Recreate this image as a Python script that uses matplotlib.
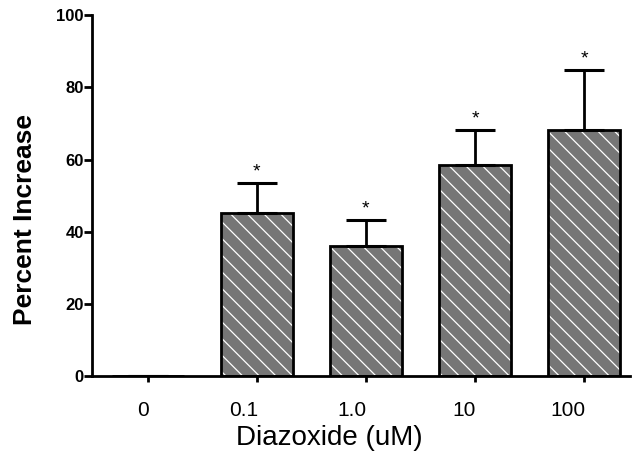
import numpy as np
import matplotlib.pyplot as plt
import matplotlib.transforms as mtransforms

# Data
doses = ['0', '0.1', '1.0', '10', '100']
increase = [0, 45.2, 36.0, 58.4, 68.1]
sem = [0, 8.3, 7.2, 9.7, 16.7]
signif = [False, True, True, True, True]

plt.rcParams['font.family'] = ['Liberation Sans', 'DejaVu Sans']
plt.rcParams['hatch.color'] = 'white'
plt.rcParams['hatch.linewidth'] = 0.9

fig = plt.figure(figsize=(6.35, 4.61), dpi=100)
ax = fig.add_axes([0.145, 0.184, 0.847, 0.783])

x = np.arange(len(doses))
bar_width = 0.66

# hatched fill (white diagonal lines on gray), then black outline on top
ax.bar(x, increase, bar_width, color='#767676', edgecolor='white', hatch='\\\\', linewidth=0, zorder=2)
ax.bar(x, increase, bar_width, fill=False, edgecolor='black', linewidth=2, zorder=3)

# upper error bars only
ax.errorbar(x, increase, yerr=[np.zeros(len(sem)), sem], fmt='none', ecolor='black',
            elinewidth=2, capsize=14.5, capthick=2.2, zorder=4)

# asterisks above the caps
for xi, v, e, s in zip(x, increase, sem, signif):
    if s:
        ax.text(xi, v + e + 0.8, '*', ha='center', va='bottom', fontsize=14)

ax.set_xlim(-0.51, 4.42)
ax.set_ylim(0, 100)
ax.set_yticks([0, 20, 40, 60, 80, 100])
ax.set_xticks(x)
ax.set_xticklabels(doses, fontsize=15, ha='right')

ax.spines['top'].set_visible(False)
ax.spines['right'].set_visible(False)
ax.spines['left'].set_linewidth(2)
ax.spines['bottom'].set_linewidth(2)
ax.tick_params(axis='y', direction='out', length=6, width=2, pad=0, labelsize=12)
ax.tick_params(axis='x', direction='out', length=4, width=2, pad=14)
plt.setp(ax.get_yticklabels(), fontweight='bold')

# x tick labels end roughly at their ticks in the original
shift = mtransforms.ScaledTranslation(0.01, 0, fig.dpi_scale_trans)
for tick in ax.xaxis.get_major_ticks():
    tick.label1.set_transform(tick.label1.get_transform() + shift)

ax.set_xlabel('Diazoxide (uM)', fontsize=20)
ax.xaxis.set_label_coords(0.442, -0.135)
ax.set_ylabel('Percent Increase', fontsize=19, fontweight='bold')
ax.yaxis.set_label_coords(-0.103, 0.435)

plt.savefig('out.png', dpi=100)
